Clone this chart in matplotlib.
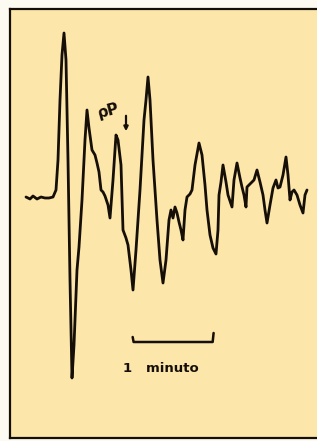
import numpy as np
import matplotlib
matplotlib.use('Agg')
import matplotlib.pyplot as plt

# trace (picture pixels), converted to seconds / amplitude below
trace_px_x = [26, 30, 33, 37, 41, 45, 49, 53, 56, 58, 60, 62, 64, 66, 68, 70, 72, 74, 77, 79,
              82, 85, 87, 89, 92, 95, 97, 99, 101, 103, 105, 108, 110, 113, 116, 118, 121, 123,
              126, 128, 131, 133, 136, 140, 144, 146, 148, 150, 153, 157, 160, 163, 166, 169,
              171, 173, 175, 177, 179, 181, 183, 185, 187, 190, 192, 195, 199, 202, 205, 207,
              210, 213, 216, 218, 219, 221, 223, 226, 228, 232, 234, 237, 240, 242, 244, 246,
              247, 250, 254, 257, 260, 263, 265, 267, 270, 273, 276, 278, 280, 283, 286, 288,
              290, 292, 294, 297, 300, 303, 305, 307]
trace_px_y = [197, 199, 196, 199, 197, 198, 198, 197, 190, 160, 100, 55, 33, 60, 160, 280, 378,
              345, 270, 247, 200, 140, 110, 128, 150, 155, 163, 172, 190, 192, 196, 205, 218,
              180, 135, 140, 165, 230, 238, 245, 270, 290, 250, 190, 120, 100, 77, 100, 160,
              220, 260, 283, 260, 220, 210, 218, 207, 213, 222, 230, 240, 210, 197, 194, 190,
              165, 143, 155, 185, 210, 235, 248, 254, 230, 195, 182, 165, 182, 195, 207, 180,
              163, 178, 187, 195, 207, 187, 184, 180, 170, 182, 195, 210, 223, 205, 188, 180,
              188, 187, 175, 157, 175, 200, 192, 190, 195, 205, 213, 195, 190]

# 1 minute = 80 px on the record
sec_per_px = 0.75
x0_px, base_px = 26, 197
t = (np.array(trace_px_x) - x0_px) * sec_per_px
amp = base_px - np.array(trace_px_y)

bar_t = [80, 80.7, 140, 140.7]
bar_amp = [-140, -145, -145, -136]

paper = '#fce6a9'
ink = '#160f08'

fig = plt.figure(figsize=(3.17, 4.41), dpi=100)
fig.patch.set_facecolor('#fdfbf1')
ax = fig.add_axes([10 / 317, 3 / 441, 320 / 317, 429 / 441])
ax.set_facecolor(paper)
ax.set_xlim(-12, 228)
ax.set_ylim(-241, 188)
ax.set_xticks([])
ax.set_yticks([])
for s in ax.spines.values():
    s.set_linewidth(1.6)
    s.set_color(ink)

ax.plot(t, amp, color=ink, lw=2.0, solid_joinstyle='round', solid_capstyle='round')
ax.plot(bar_t, bar_amp, color=ink, lw=1.8, solid_capstyle='round')
ax.text(101, -172, '1   minuto', ha='center', va='center', fontsize=9.5,
        fontweight='bold', color=ink)
ax.text(62, 86, 'ρP', ha='center', va='center', fontsize=11, fontweight='bold',
        color=ink, rotation=15)
ax.annotate('', xy=(75, 63), xytext=(75, 84),
            arrowprops=dict(arrowstyle='-|>', color=ink, lw=1.6, mutation_scale=6))

fig.savefig('out.png', dpi=100, facecolor=fig.get_facecolor())
